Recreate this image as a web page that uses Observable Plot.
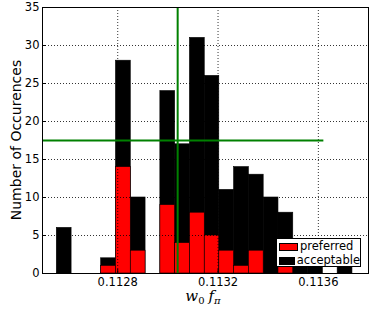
<!DOCTYPE html>
<html>
<head>
<meta charset="utf-8">
<script src="https://cdn.jsdelivr.net/npm/d3@7"></script>
<script src="https://cdn.jsdelivr.net/npm/@observablehq/plot@0.6"></script>
<style>
  body { margin: 0; background: #fff; }
  #wrap { position: relative; width: 374px; height: 311px; font-family: "DejaVu Sans", sans-serif; }
  #legend { position: absolute; left: 276px; top: 238px; width: 85px; height: 29px; background: #fff;
            border: 1px solid #000; box-sizing: border-box; font-size: 11.5px; line-height: 13px; }
  .row { display: flex; align-items: center; height: 13px; margin-left: 2px; margin-top: 1px; }
  .sw { width: 19px; height: 8px; border: 1px solid #000; box-sizing: border-box; margin-right: 2px; }
</style>
</head>
<body>
<div id="wrap"></div>
<script>
// Bin edges
const binEdges = [0.112557, 0.112616, 0.112675, 0.112734, 0.112793, 0.112852, 0.112911,
  0.112970, 0.113029, 0.113088, 0.113147, 0.113205, 0.113264, 0.113323, 0.113382,
  0.113441, 0.113500, 0.113559, 0.113618, 0.113677, 0.113736];
const acceptable = [6, 0, 0, 2, 28, 10, 0, 24, 17, 31, 26, 11, 14, 13, 10, 8, 2, 1, 0, 1];
const preferred  = [0, 0, 0, 1, 14, 3, 0, 9, 4, 8, 5, 3, 1, 3, 0, 1, 0, 0, 0, 0];
const seriesNames = ["preferred", "acceptable"];
const xTicks = [0.1128, 0.1132, 0.1136];
const yTicks = [0, 5, 10, 15, 20, 25, 30, 35];
const xDomain = [0.1125, 0.1138];
const yDomain = [0, 35];
const vLineX = 0.113039;
const hLineY = 17.5;
const hLineX = [0.1125, 0.113622];

const toBars = arr => arr.map((v, i) => ({x1: binEdges[i], x2: binEdges[i + 1], y: v})).filter(d => d.y > 0);
const accBars = toBars(acceptable);
const prefBars = toBars(preferred);

const chart = Plot.plot({
  width: 374, height: 311,
  marginLeft: 42, marginRight: 6, marginTop: 7, marginBottom: 38,
  style: {fontFamily: "DejaVu Sans, sans-serif", fontSize: "11.5px", color: "#000", background: "#fff"},
  x: {domain: xDomain},
  y: {domain: yDomain},
  marks: [
    Plot.rect(accBars, {x1: "x1", x2: "x2", y1: 0, y2: "y", fill: "#000", stroke: "#000", strokeWidth: 0.6}),
    Plot.rect(prefBars, {x1: "x1", x2: "x2", y1: 0, y2: "y", fill: "#ff0000", stroke: "#000", strokeWidth: 0.6}),
    Plot.gridY(yTicks.filter(d => d > 0 && d < 35), {stroke: "#000", strokeOpacity: 1, strokeWidth: 0.8, strokeDasharray: "1,2"}),
    Plot.gridX(xTicks, {stroke: "#000", strokeOpacity: 1, strokeWidth: 0.8, strokeDasharray: "1,2"}),
    Plot.ruleX([vLineX], {x: d => d, stroke: "#008000", strokeWidth: 2}),
    Plot.ruleY([hLineY], {y: d => d, x1: hLineX[0], x2: hLineX[1], stroke: "#008000", strokeWidth: 2}),
    Plot.frame({stroke: "#000"}),
    Plot.axisY(yTicks, {tickSize: 0, tickPadding: 3, label: null, fontSize: 11.5}),
    Plot.axisY(yTicks, {tickSize: -4, tickFormat: () => "", label: null}),
    Plot.axisX(xTicks, {tickSize: 0, tickPadding: 4, tickFormat: d => d.toFixed(4), label: null, fontSize: 11.5}),
    Plot.axisX(xTicks, {tickSize: -4, tickFormat: () => "", label: null})
  ]
});

const wrap = document.getElementById("wrap");
wrap.appendChild(chart);

// Axis titles as real text
const svg = d3.select(chart);
svg.append("text")
  .attr("transform", "translate(17,140) rotate(-90)")
  .attr("text-anchor", "middle")
  .attr("dominant-baseline", "middle")
  .attr("font-family", "DejaVu Sans, sans-serif")
  .attr("font-size", 14)
  .attr("fill", "#000")
  .text("Number of Occurences");

const xl = svg.append("text")
  .attr("x", 203).attr("y", 301)
  .attr("text-anchor", "middle")
  .attr("font-family", "DejaVu Serif, serif")
  .attr("font-size", 15)
  .attr("fill", "#000");
xl.append("tspan").attr("font-style", "italic").text("w");
xl.append("tspan").attr("font-size", 10).attr("dy", 3).text("0");
xl.append("tspan").attr("dy", -3).attr("dx", 4).attr("font-style", "italic").text("f");
xl.append("tspan").attr("font-size", 10).attr("dy", 3).attr("font-style", "italic").text("π");

// Legend
const colors = {preferred: "#ff0000", acceptable: "#000"};
const legend = document.createElement("div");
legend.id = "legend";
seriesNames.forEach(name => {
  const row = document.createElement("div");
  row.className = "row";
  const sw = document.createElement("span");
  sw.className = "sw";
  sw.style.background = colors[name];
  const t = document.createElement("span");
  t.textContent = name;
  row.appendChild(sw); row.appendChild(t);
  legend.appendChild(row);
});
wrap.appendChild(legend);
</script>
</body>
</html>
